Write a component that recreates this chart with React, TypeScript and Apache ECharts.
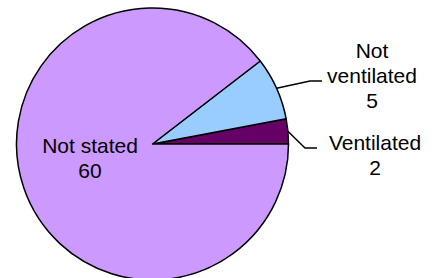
import React, { useEffect, useRef } from "react";
import * as echarts from "echarts";

const categories = ["Ventilated", "Not ventilated", "Not stated"];
const values = [2, 5, 60];
const colors = ["#660066", "#99CCFF", "#CC99FF"];

export default function App() {
  const ref = useRef<HTMLDivElement>(null);
  useEffect(() => {
    if (!ref.current) return;
    const chart = echarts.init(ref.current, null, { renderer: "svg" });
    const labelSpots: Record<number, any> = {
      0: { x: 375, y: 155, mid: [305, 148], end: [317, 148] },
      1: { x: 372, y: 75, mid: [310, 81], end: [322, 81] },
      2: { x: 90, y: 158 },
    };
    chart.setOption({
      animation: false,
      series: [
        {
          type: "pie",
          center: [152.5, 144],
          radius: 136,
          startAngle: 0,
          clockwise: false,
          silent: true,
          itemStyle: { borderColor: "#000", borderWidth: 1.5 },
          label: {
            show: true,
            position: "outside",
            formatter: (p: any) =>
              p.name === "Not ventilated" ? `Not\nventilated\n${p.value}` : `${p.name}\n${p.value}`,
            color: "#000",
            fontFamily: "Arial, 'Liberation Sans', sans-serif",
            fontSize: 21,
            lineHeight: 25,
            align: "center",
          },
          labelLine: {
            show: true,
            length: 15,
            length2: 10,
            smooth: false,
            lineStyle: { color: "#000", width: 1.5 },
          },
          labelLayout: (params: any) => {
            const s = labelSpots[params.dataIndex];
            const out: any = { x: s.x, y: s.y, align: "center", verticalAlign: "middle" };
            if (s.mid && params.labelLinePoints) {
              out.labelLinePoints = [params.labelLinePoints[0], s.mid, s.end];
            }
            return out;
          },
          data: categories.map((name, i) => ({
            name,
            value: values[i],
            itemStyle: { color: colors[i] },
            ...(name === "Not stated"
              ? { label: { position: "inner" }, labelLine: { show: false } }
              : {}),
          })),
        },
      ],
    });
    return () => chart.dispose();
  }, []);
  return (
    <div
      ref={ref}
      style={{ position: "fixed", left: 0, top: 0, width: 436, height: 278, background: "#fff" }}
    />
  );
}
